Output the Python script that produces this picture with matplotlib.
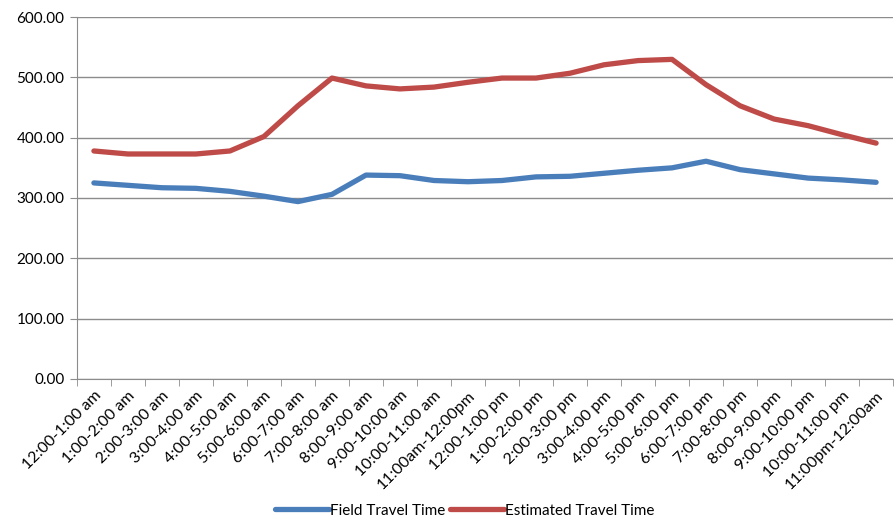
import numpy as np
import matplotlib
matplotlib.use("Agg")
import matplotlib.pyplot as plt

hours = [
    "12:00-1:00 am", "1:00-2:00 am", "2:00-3:00 am", "3:00-4:00 am",
    "4:00-5:00 am", "5:00-6:00 am", "6:00-7:00 am", "7:00-8:00 am",
    "8:00-9:00 am", "9:00-10:00 am", "10:00-11:00 am", "11:00am-12:00pm",
    "12:00-1:00 pm", "1:00-2:00 pm", "2:00-3:00 pm", "3:00-4:00 pm",
    "4:00-5:00 pm", "5:00-6:00 pm", "6:00-7:00 pm", "7:00-8:00 pm",
    "8:00-9:00 pm", "9:00-10:00 pm", "10:00-11:00 pm", "11:00pm-12:00am",
]

field_time = [325, 321, 317, 316, 311, 303, 294, 306, 338, 337, 329, 327,
              329, 335, 336, 341, 346, 350, 361, 347, 340, 333, 330, 326]
estimated_time = [378, 373, 373, 373, 378, 402, 453, 499, 486, 481, 484, 492,
                  499, 499, 507, 521, 528, 530, 488, 453, 431, 420, 405, 391]

plt.rcParams['font.family'] = ['Lato', 'DejaVu Sans']

fig = plt.figure(figsize=(8.94, 5.21), dpi=100)
ax = fig.add_axes([0.086, 0.273, 0.913, 0.694])

x = np.arange(len(hours))
ax.plot(x, field_time, color='#4A7EBB', lw=3.8, solid_capstyle='round',
        solid_joinstyle='round', label='Field Travel Time')
ax.plot(x, estimated_time, color='#BE4B48', lw=3.8, solid_capstyle='round',
        solid_joinstyle='round', label='Estimated Travel Time')

ax.set_xlim(-0.5, len(hours) - 0.5)
ax.set_ylim(0, 600)
ax.set_yticks(np.arange(0, 601, 100))
ax.set_yticklabels([f"{v:.2f}" for v in range(0, 601, 100)], fontsize=11)
ax.yaxis.grid(True, color='#8C8C8C', lw=1)
ax.set_axisbelow(True)

ax.set_xticks(x)
ax.set_xticklabels(hours, rotation=45, ha='right', rotation_mode='anchor', fontsize=11.5)
ax.set_xticks(np.arange(-0.5, len(hours), 1), minor=True)
ax.tick_params(axis='x', which='major', length=0, pad=7)
ax.tick_params(axis='x', which='minor', length=5, color='#8C8C8C')
ax.tick_params(axis='y', length=5, color='#8C8C8C', pad=4)

for s in ['top', 'right']:
    ax.spines[s].set_visible(False)
for s in ['left', 'bottom']:
    ax.spines[s].set_color('#8C8C8C')

fig.legend(loc='lower center', bbox_to_anchor=(0.52, -0.02), ncol=2, frameon=False,
           fontsize=11, handlelength=3.5, columnspacing=0.3, handletextpad=0.1)

fig.savefig('out.png', dpi=100)
